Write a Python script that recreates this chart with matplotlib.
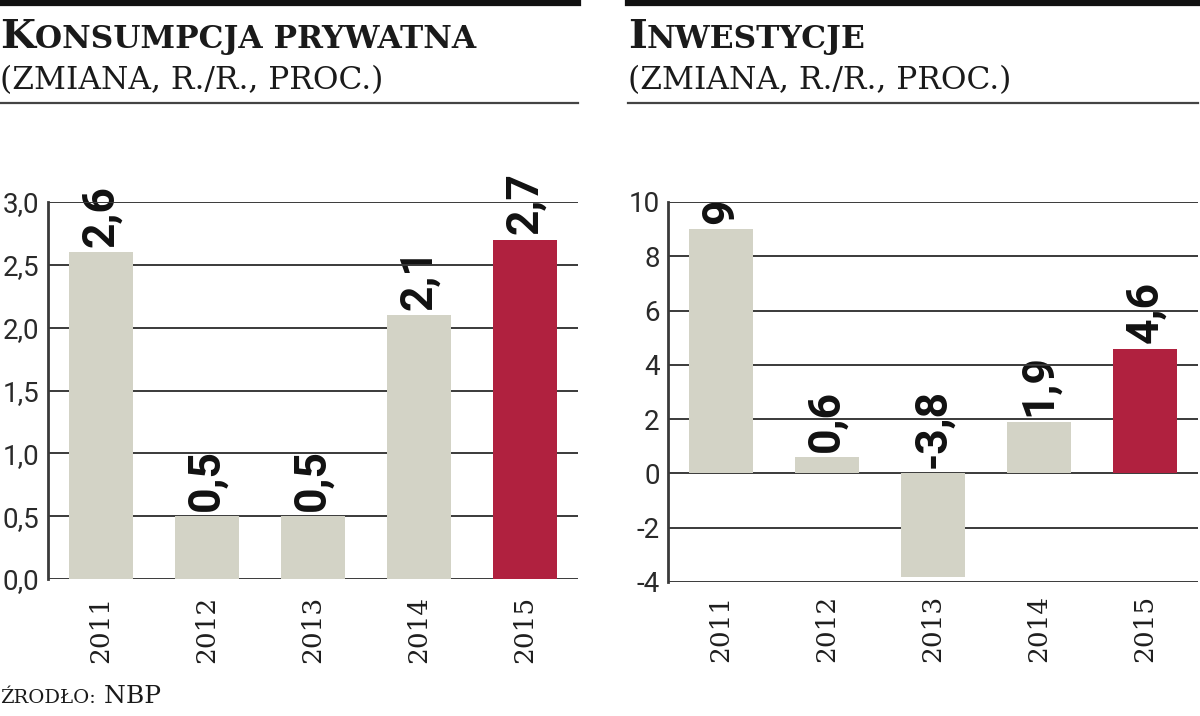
import matplotlib
matplotlib.use("Agg")
import matplotlib.pyplot as plt
from matplotlib.lines import Line2D

years = ["2011", "2012", "2013", "2014", "2015"]
konsumpcja = [2.6, 0.5, 0.5, 2.1, 2.7]
inwestycje = [9.0, 0.6, -3.8, 1.9, 4.6]
kons_labels = ["2,6", "0,5", "0,5", "2,1", "2,7"]
inw_labels = ["9", "0,6", "-3,8", "1,9", "4,6"]
kons_ticks = [0.0, 0.5, 1.0, 1.5, 2.0, 2.5, 3.0]
kons_ticklabels = ["0,0", "0,5", "1,0", "1,5", "2,0", "2,5", "3,0"]
inw_ticks = [-4, -2, 0, 2, 4, 6, 8, 10]
inw_ticklabels = ["-4", "-2", "0", "2", "4", "6", "8", "10"]
title_left = "KONSUMPCJA PRYWATNA"
title_right = "INWESTYCJE"
subtitle = "(ZMIANA, R./R., PROC.)"
source = ("ŹRODŁO:", "NBP")

GREY = "#d3d3c6"
RED = "#b0213f"
LINE = "#3a3a3a"

W, H = 1200, 716
fig = plt.figure(figsize=(W / 100, H / 100), dpi=100)
fig.patch.set_facecolor("white")
renderer = fig.canvas.get_renderer()


def fx(px):
    return px / W


def fy(py):
    return 1 - py / H


def seq_text(x_px, y_px, parts, family="DejaVu Serif"):
    """parts: list of (string, size, weight); drawn one after another on the same baseline."""
    x = x_px
    for s, size, weight in parts:
        t = fig.text(fx(x), fy(y_px), s, fontsize=size, fontweight=weight,
                     family=family, va="baseline", ha="left", color="#1a1a1a")
        bb = t.get_window_extent(renderer)
        x += bb.width


def header(x0, x1, first, rest):
    fig.add_artist(Line2D([fx(x0), fx(x1)], [fy(2.5), fy(2.5)], color="#111111", lw=4.5))
    fig.add_artist(Line2D([fx(x0), fx(x1)], [fy(103), fy(103)], color="#444444", lw=1.6))
    seq_text(x0, 48, [(first, 29, "bold"), (rest, 22.5, "bold")])
    seq_text(x0, 89, [(subtitle, 22.5, "normal")])


header(0, 578, title_left[0], title_left[1:])
header(628, 1198, title_right[0], title_right[1:])

seq_text(0, 703, [(source[0], 14, "normal"), (" " + source[1], 18, "normal")])


def panel(rect_px, values, labels, ticks, ticklabels, ylim):
    x0, y_top, x1, y_bot = rect_px
    ax = fig.add_axes([fx(x0), fy(y_bot), fx(x1 - x0), (y_bot - y_top) / H])
    xs = list(range(len(values)))
    colors = [GREY] * (len(values) - 1) + [RED]
    for t in ticks:
        ax.axhline(t, color=LINE, lw=1.4, zorder=2)
    ax.bar(xs, values, width=0.6, color=colors, zorder=3)
    for x, v, lab in zip(xs, values, labels):
        base = max(v, 0)
        ax.annotate(lab, xy=(x, base), xytext=(0, 4), textcoords="offset points",
                    rotation=90, ha="center", va="bottom", fontsize=32,
                    fontweight="bold", family="Roboto", color="#111111",
                    zorder=1, annotation_clip=False)
    ax.set_xlim(-0.5, len(values) - 0.5)
    ax.set_ylim(*ylim)
    ax.set_yticks(ticks)
    ax.set_yticklabels(ticklabels, family="Roboto", fontsize=20, color="#2a2a2a")
    ax.set_xticks(xs)
    ax.set_xticklabels(years, rotation=90, family="DejaVu Serif", fontsize=19,
                       color="#1e1e1e")
    ax.tick_params(axis="y", length=0, pad=6)
    ax.tick_params(axis="x", length=0, pad=12 if ylim[0] == 0 else 9)
    for s in ["top", "right", "bottom"]:
        ax.spines[s].set_visible(False)
    ax.spines["left"].set_color(LINE)
    ax.spines["left"].set_linewidth(2)
    ax.set_facecolor("none")
    return ax


panel((48, 202, 578, 579), konsumpcja, kons_labels, kons_ticks, kons_ticklabels, (0, 3))
panel((668, 202, 1198, 582), inwestycje, inw_labels, inw_ticks, inw_ticklabels, (-4, 10))

fig.savefig("out.png", dpi=100, facecolor="white")
